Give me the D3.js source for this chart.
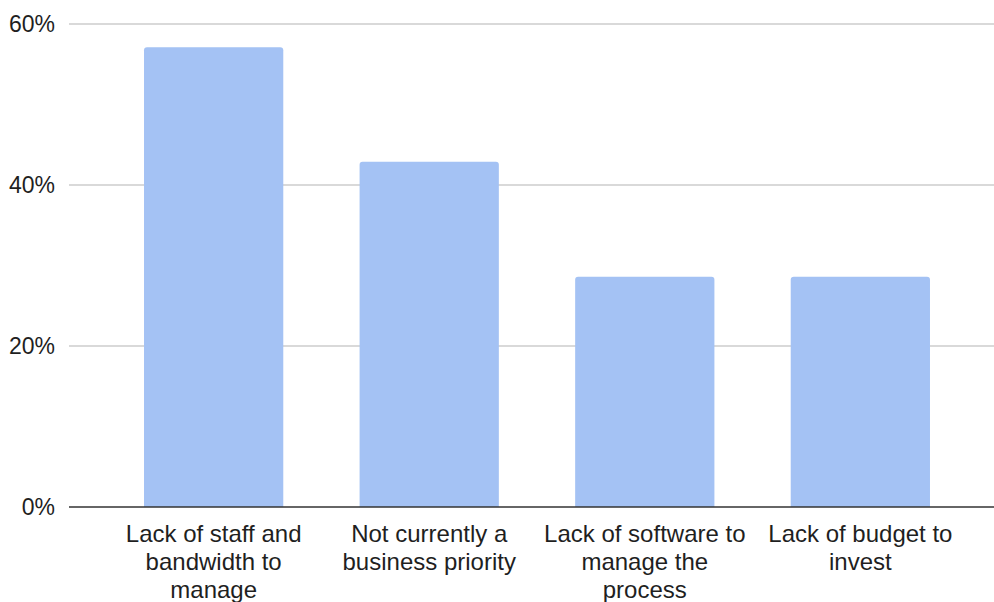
<!DOCTYPE html>
<html><head><meta charset="utf-8">
<script src="https://cdn.jsdelivr.net/npm/d3@7"></script>
<style>body{margin:0;background:#fff}svg{display:block}</style>
</head><body>
<svg id="c" width="994" height="602"></svg>
<script>
const categories = ["Lack of staff and\nbandwidth to\nmanage", "Not currently a\nbusiness priority", "Lack of software to\nmanage the\nprocess", "Lack of budget to\ninvest"];
const values = [57.1, 42.9, 28.6, 28.6];
const yTicks = [0, 20, 40, 60];

const svg = d3.select("#c");
const font = "'Liberation Sans', Arial, sans-serif";
const x = d3.scaleBand().domain(categories).range([69, 1005]).paddingInner(0.354).paddingOuter(0.348);
const y = d3.scaleLinear().domain([0, 60]).range([507, 24]);

// gridlines
svg.append("g").selectAll("line").data(yTicks.filter(d => d !== 0)).join("line")
  .attr("x1", 69).attr("x2", 994).attr("y1", d => y(d)).attr("y2", d => y(d))
  .attr("stroke", "#cccccc").attr("stroke-width", 1.5);

// y labels
svg.append("g").selectAll("text").data(yTicks).join("text")
  .attr("x", 55).attr("y", d => y(d) + 8)
  .attr("text-anchor", "end").attr("font-family", font).attr("font-size", 23).attr("fill", "#1f1f1f")
  .text(d => d + "%");

// bars with rounded tops
const r = 3;
svg.append("g").selectAll("path").data(values).join("path")
  .attr("fill", "#a4c2f4")
  .attr("d", (d, i) => {
    const x0 = x(categories[i]), w = x.bandwidth(), y0 = y(d), yb = y(0);
    return `M${x0},${yb}V${y0 + r}Q${x0},${y0} ${x0 + r},${y0}H${x0 + w - r}Q${x0 + w},${y0} ${x0 + w},${y0 + r}V${yb}Z`;
  });

// baseline
svg.append("line").attr("x1", 69).attr("x2", 994).attr("y1", y(0)).attr("y2", y(0))
  .attr("stroke", "#333333").attr("stroke-width", 1.5);

// category labels
const lab = svg.append("g").selectAll("text").data(categories).join("text")
  .attr("text-anchor", "middle").attr("font-family", font).attr("font-size", 24).attr("fill", "#1f1f1f")
  .attr("transform", d => `translate(${x(d) + x.bandwidth() / 2},542)`);
lab.selectAll("tspan").data(d => d.split("\n")).join("tspan")
  .attr("x", 0).attr("y", (d, i) => i * 28).text(d => d);
</script>
</body></html>
